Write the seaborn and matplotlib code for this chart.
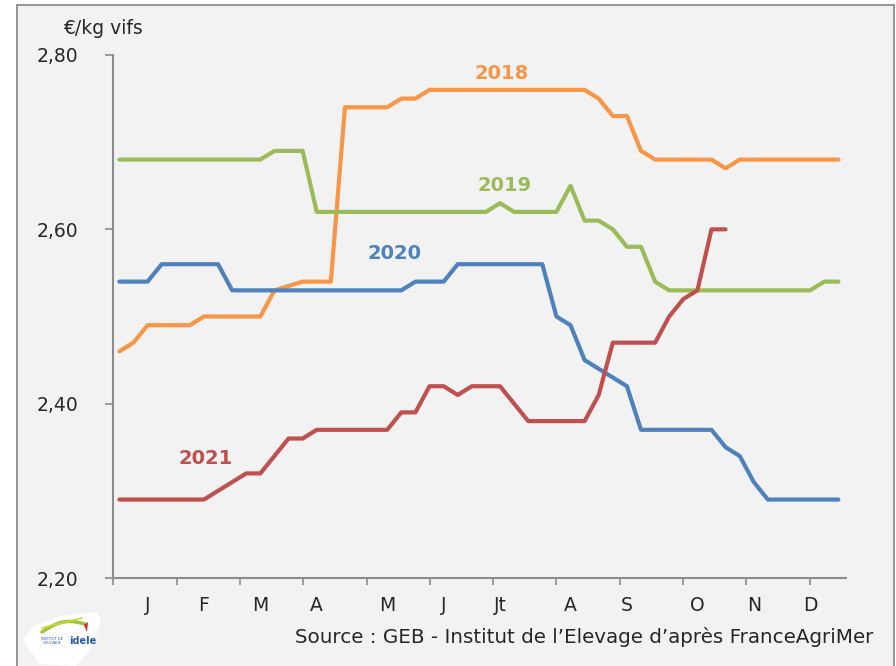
import numpy as np
import pandas as pd
import matplotlib
matplotlib.use("Agg")
import matplotlib.pyplot as plt
import seaborn as sns
from matplotlib.patches import Rectangle, Polygon

# ---------------- data ----------------
years = ["2018", "2019", "2020", "2021"]
colors = ["#F79646", "#9BBB59", "#4F81BD", "#C0504D"]

prix_2018 = [2.46, 2.47, 2.49, 2.49, 2.49, 2.49, 2.50, 2.50, 2.50, 2.50,
             2.50, 2.53, 2.535, 2.54, 2.54, 2.54, 2.74, 2.74, 2.74, 2.74,
             2.75, 2.75, 2.76, 2.76, 2.76, 2.76, 2.76, 2.76, 2.76, 2.76,
             2.76, 2.76, 2.76, 2.76, 2.75, 2.73, 2.73, 2.69, 2.68, 2.68,
             2.68, 2.68, 2.68, 2.67, 2.68, 2.68, 2.68, 2.68, 2.68, 2.68,
             2.68, 2.68]
prix_2019 = [2.68, 2.68, 2.68, 2.68, 2.68, 2.68, 2.68, 2.68, 2.68, 2.68,
             2.68, 2.69, 2.69, 2.69, 2.62, 2.62, 2.62, 2.62, 2.62, 2.62,
             2.62, 2.62, 2.62, 2.62, 2.62, 2.62, 2.62, 2.63, 2.62, 2.62,
             2.62, 2.62, 2.65, 2.61, 2.61, 2.60, 2.58, 2.58, 2.54, 2.53,
             2.53, 2.53, 2.53, 2.53, 2.53, 2.53, 2.53, 2.53, 2.53, 2.53,
             2.54, 2.54]
prix_2020 = [2.54, 2.54, 2.54, 2.56, 2.56, 2.56, 2.56, 2.56, 2.53, 2.53,
             2.53, 2.53, 2.53, 2.53, 2.53, 2.53, 2.53, 2.53, 2.53, 2.53,
             2.53, 2.54, 2.54, 2.54, 2.56, 2.56, 2.56, 2.56, 2.56, 2.56,
             2.56, 2.50, 2.49, 2.45, 2.44, 2.43, 2.42, 2.37, 2.37, 2.37,
             2.37, 2.37, 2.37, 2.35, 2.34, 2.31, 2.29, 2.29, 2.29, 2.29,
             2.29, 2.29]
prix_2021 = [2.29, 2.29, 2.29, 2.29, 2.29, 2.29, 2.29, 2.30, 2.31, 2.32,
             2.32, 2.34, 2.36, 2.36, 2.37, 2.37, 2.37, 2.37, 2.37, 2.37,
             2.39, 2.39, 2.42, 2.42, 2.41, 2.42, 2.42, 2.42, 2.40, 2.38,
             2.38, 2.38, 2.38, 2.38, 2.41, 2.47, 2.47, 2.47, 2.47, 2.50,
             2.52, 2.53, 2.60, 2.60]

month_labels = ["J", "F", "M", "A", "M", "J", "Jt", "A", "S", "O", "N", "D"]
month_label_weeks = [2, 6, 10, 14, 19, 23, 27, 32, 36, 41, 45, 49]
y_ticks = [2.20, 2.40, 2.60, 2.80]
y_ticklabels = ["2,20", "2,40", "2,60", "2,80"]

series = {"2018": prix_2018, "2019": prix_2019, "2020": prix_2020, "2021": prix_2021}
df = pd.concat(
    [pd.DataFrame({"semaine": np.arange(len(v)), "prix": v, "annee": k})
     for k, v in series.items()],
    ignore_index=True,
)

# ---------------- figure ----------------
sns.set_theme(style="white")
FONT = ["DejaVu Sans"]
plt.rcParams["font.family"] = FONT
TXT = "#262626"

W, H = 896, 666
fig = plt.figure(figsize=(W / 100, H / 100), dpi=100, facecolor="white")

# chart area background with border
fig.patches.append(Rectangle((17 / W, -0.02), (894 - 17) / W, (666 - 5) / H + 0.02,
                             transform=fig.transFigure, facecolor="#F2F2F2",
                             edgecolor="#8C8C8C", linewidth=1.3, zorder=-5))

ax = fig.add_axes([113.3 / W, 1 - 578 / H, (846 - 113.3) / W, (578 - 55) / H])
ax.set_facecolor("none")
ax.set_zorder(2)

sns.lineplot(data=df, x="semaine", y="prix", hue="annee", palette=dict(zip(years, colors)),
             hue_order=years, estimator=None, sort=False, linewidth=3.0, legend=False, ax=ax)
for ln in ax.lines:
    ln.set_solid_capstyle("round")
    ln.set_solid_joinstyle("round")

ax.set_xlim(-0.43, 51.54)
ax.set_ylim(2.20, 2.80)
ax.set_xlabel("")
ax.set_ylabel("")

# y axis
ax.set_yticks(y_ticks)
ax.set_yticklabels(y_ticklabels)
ax.tick_params(axis="y", which="major", left=True, length=6, width=1.2, color="#8C8C8C",
               direction="out", pad=19, labelsize=13.5, labelcolor=TXT)

# x axis: tick marks regular, month labels at given weeks
ax.set_xticks([-0.43 + 4.49 * k for k in range(12)])
ax.set_xticklabels([])
ax.set_xticks(month_label_weeks, minor=True)
ax.set_xticklabels(month_labels, minor=True)
ax.tick_params(axis="x", which="major", bottom=True, length=5, width=1.2, color="#8C8C8C",
               direction="out")
ax.tick_params(axis="x", which="minor", bottom=True, length=0, pad=13, labelsize=13.5,
               labelcolor=TXT)

for s in ["top", "right"]:
    ax.spines[s].set_visible(False)
for s in ["left", "bottom"]:
    ax.spines[s].set_color("#8C8C8C")
    ax.spines[s].set_linewidth(1.5)
ax.grid(False)

# series labels
ax.text(27.1, 2.779, "2018", color=colors[0], fontsize=14, fontweight="bold", ha="center", va="center")
ax.text(27.35, 2.650, "2019", color=colors[1], fontsize=14, fontweight="bold", ha="center", va="center")
ax.text(19.5, 2.572, "2020", color=colors[2], fontsize=14, fontweight="bold", ha="center", va="center")
ax.text(6.15, 2.337, "2021", color=colors[3], fontsize=14, fontweight="bold", ha="center", va="center")

# unit and source
fig.text(63 / W, 1 - 28 / H, "€/kg vifs", fontsize=13.5, color=TXT, ha="left", va="center")
fig.text(295 / W, 1 - 637 / H, "Source : GEB - Institut de l’Elevage d’après FranceAgriMer",
         fontsize=14.3, color=TXT, ha="left", va="center")

# logo (simplified)
blob = [(22, 640), (34, 626), (60, 616), (97, 612), (101, 620), (92, 648), (76, 666), (40, 664)]
fig.patches.append(Polygon([(x / W, 1 - y / H) for x, y in blob], closed=True,
                           transform=fig.transFigure, facecolor="white", edgecolor="none", zorder=1))
t = np.linspace(0, 1, 30)
sx = 42 + 43 * t
sy = 632 - 8 * t - 6 * np.sin(np.pi * t)
fig.lines.append(plt.Line2D(sx / W, 1 - sy / H, transform=fig.transFigure, color="#9BC53D", lw=2.5, zorder=2))
fig.lines.append(plt.Line2D((42 + 40 * t) / W, 1 - (628 - 10 * t) / H, transform=fig.transFigure,
                            color="#C8D92B", lw=1.2, zorder=2))
fig.text(83 / W, 1 - 641 / H, "idele", fontsize=7, fontweight="bold", color="#2B5BA8",
         ha="center", va="center", zorder=3)
fig.text(52 / W, 1 - 641 / H, "INSTITUT DE\nL'ÉLEVAGE", fontsize=2.5, color="#2B5BA8",
         ha="center", va="center", zorder=3, linespacing=1.0)
fig.patches.append(Polygon([(84 / W, 1 - 625 / H), (88 / W, 1 - 622 / H), (87 / W, 1 - 632 / H)],
                           closed=True, transform=fig.transFigure, facecolor="#E2231A",
                           edgecolor="none", zorder=3))

fig.savefig("out.png", dpi=100, facecolor="white")
